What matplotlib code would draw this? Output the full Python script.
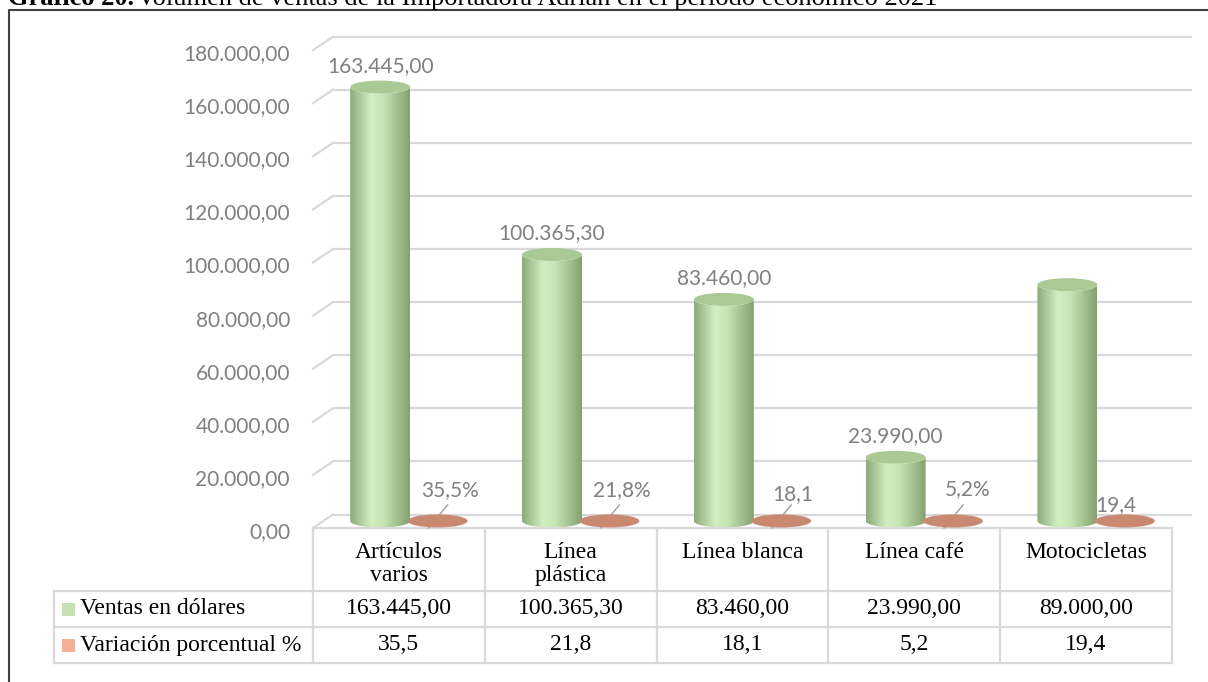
import numpy as np
import matplotlib.pyplot as plt
from matplotlib.patches import Ellipse, Polygon, Rectangle
from matplotlib.colors import LinearSegmentedColormap

# Datos del gráfico
categorias = ['Artículos\nvarios', 'Línea\nplástica', 'Línea blanca', 'Línea café', 'Motocicletas']
ventas = [163445.00, 100365.30, 83460.00, 23990.00, 89000.00]
variacion = [35.5, 21.8, 18.1, 5.2, 19.4]
serie_ventas = 'Ventas en dólares'
serie_variacion = 'Variación porcentual %'
ticks_y = [0, 20000, 40000, 60000, 80000, 100000, 120000, 140000, 160000, 180000]
titulo_num = 'Gráfico 20.'
titulo = 'Volumen de ventas de la Importadora Adrián en el periodo económico 2021'

# etiquetas de datos que se muestran sobre las barras
mostrar_ventas = [True, True, True, True, False]
sufijo_variacion = ['%', '%', '', '%', '']
linea_guia = [True, True, True, True, False]
desp_variacion = [(12, 31), (12, 31), (12, 27), (15, 32), (-9, 16)]


def es(v, dec=2):
    s = f'{v:,.{dec}f}'
    return s.replace(',', 'X').replace('.', ',').replace('X', '.')


W, H = 1208, 682
SERIF = 'Liberation Serif'
SANS = 'Lato'
GRIS = '#808080'
LINEA = '#d9d9d9'

fig = plt.figure(figsize=(W / 100, H / 100), dpi=100)

# capa de fondo en pixeles (origen arriba a la izquierda)
bg = fig.add_axes([0, 0, 1, 1])
bg.set_xlim(0, W)
bg.set_ylim(H, 0)
bg.axis('off')

# plano de las columnas (con margen bajo el cero para la base de los cilindros)
YMIN, YMAX = -10000, 180000
esc = 477.9 / 180000
y_base = 521 + (-YMIN) * esc
ax = fig.add_axes([323 / W, (H - y_base) / H, 859 / W, (YMAX - YMIN) * esc / H])
ax.set_xlim(-0.5, 4.5)
ax.set_ylim(YMIN, YMAX)
ax.axis('off')
ax.patch.set_alpha(0)


def px(x, y):
    dx, dy = ax.transData.transform((x, y))
    return dx, H - dy


ppx = px(1, 0)[0] - px(0, 0)[0]
ppy = px(0, 0)[1] - px(0, 1000)[1]  # pixeles por cada 1000
FRONT = (-10, 7)
BACK = (10, -6.5)

# paredes: cuadricula del fondo y diagonales del lateral
for v in ticks_y:
    x0, y0 = px(-0.5, v)
    x1, y1 = px(4.5, v)
    bg.plot([x0 + BACK[0], x1 + BACK[0]], [y0 + BACK[1], y1 + BACK[1]],
            color=LINEA, lw=1.6, solid_capstyle='butt', zorder=1)
    bg.plot([x0 + FRONT[0], x0 + BACK[0]], [y0 + FRONT[1], y0 + BACK[1]],
            color=LINEA, lw=1.6, zorder=1)
    bg.text(x0 + FRONT[0] - 23, y0 + FRONT[1] + 4, es(v), ha='right', va='center',
            fontsize=15, color=GRIS, family=SANS)

# cilindros
eh = 13 / ppy * 1000
ew = 60 / ppx
grad = np.linspace(0, 1, 256).reshape(1, -1)
cmap_verde = LinearSegmentedColormap.from_list(
    'verde', [(0, '#8cab78'), (0.35, '#d3edc3'), (0.55, '#c8e5b5'), (1, '#83a16f')])
cmap_rojo = LinearSegmentedColormap.from_list(
    'rojo', [(0, '#bd7b63'), (0.4, '#cf907a'), (1, '#b8755e')])


def cilindro(xc, v, cmap, tapa):
    t = np.linspace(np.pi, 2 * np.pi, 60)
    base = np.column_stack([xc + ew / 2 * np.cos(t), eh / 2 * np.sin(t)])
    sup = np.column_stack([xc + ew / 2 * np.cos(t[::-1]), v + eh / 2 * np.sin(t[::-1])])
    cuerpo = Polygon(np.vstack([base, sup]), closed=True, facecolor='none', edgecolor='none')
    ax.add_patch(cuerpo)
    im = ax.imshow(grad, extent=[xc - ew / 2, xc + ew / 2, -eh / 2, v + eh / 2],
                   aspect='auto', cmap=cmap, origin='lower', interpolation='bicubic', zorder=2)
    im.set_clip_path(cuerpo)
    ax.add_patch(Ellipse((xc, v), ew, eh, facecolor=tapa, edgecolor='none', zorder=3))


for i, (v, p) in enumerate(zip(ventas, variacion)):
    xv = i - 0.167
    xp = i + 0.167
    cilindro(xv, v, cmap_verde, '#abc994')
    cilindro(xp, p, cmap_rojo, '#c98870')
    if mostrar_ventas[i]:
        ax.annotate(es(v), (xv, v), xytext=(0, 21), textcoords='offset pixels',
                    ha='center', va='center', fontsize=15, color=GRIS, family=SANS)
    cx, cy = px(xp, p)
    ox, oy = desp_variacion[i]
    bg.text(cx + ox, cy - oy, es(p, 1) + sufijo_variacion[i], ha='center', va='center',
            fontsize=15, color=GRIS, family=SANS, zorder=5)
    if linea_guia[i]:
        bg.plot([cx + 10, cx - 9], [cy - 16, cy + 7], color='#a6a6a6', lw=1.1, zorder=5)

ax.set_xlim(-0.5, 4.5)
ax.set_ylim(YMIN, YMAX)

# tabla de datos
xs = [px(i - 0.5, 0)[0] + FRONT[0] for i in range(6)]
y_top = px(0, 0)[1] + FRONT[1]
y1, y2, y3 = 591, 627, 663
x_izq = 54
for y, xa in [(y_top, xs[0]), (y1, x_izq), (y2, x_izq), (y3, x_izq)]:
    bg.plot([xa, xs[-1]], [y, y], color=LINEA, lw=1.6, zorder=1)
for x in xs:
    bg.plot([x, x], [y_top, y3], color=LINEA, lw=1.6, zorder=1)
bg.plot([x_izq, x_izq], [y1, y3], color=LINEA, lw=1.6, zorder=1)

for i, cat in enumerate(categorias):
    xc = (xs[i] + xs[i + 1]) / 2
    bg.text(xc, 542, cat, ha='center', va='top', fontsize=17, family=SERIF,
            linespacing=1.1)
    bg.text(xc, (y1 + y2) / 2, es(ventas[i]), ha='center', va='center',
            fontsize=17, family=SERIF)
    bg.text(xc, (y2 + y3) / 2, es(variacion[i], 1), ha='center', va='center',
            fontsize=17, family=SERIF)

for (ya, yb), nombre, color in [((y1, y2), serie_ventas, '#c5e0b3'),
                                ((y2, y3), serie_variacion, '#f4b196')]:
    yc = (ya + yb) / 2
    bg.add_patch(Rectangle((62, yc - 6.5), 13, 13, facecolor=color, edgecolor='none'))
    bg.text(80, yc, nombre, ha='left', va='center', fontsize=17, family=SERIF)

# marco exterior
bg.plot([9, 9, W + 5], [H + 5, 10, 10], color='#404040', lw=1.5, clip_on=False)

# titulo (cortado por el borde superior)
t1 = bg.text(8, 5, titulo_num, ha='left', va='baseline', fontsize=19,
             family=SERIF, weight='bold')
fig.canvas.draw()
bb = t1.get_window_extent()
bg.text(bb.x1 + 3, 5, titulo, ha='left', va='baseline', fontsize=19, family=SERIF)

fig.savefig('out.png', dpi=100)
